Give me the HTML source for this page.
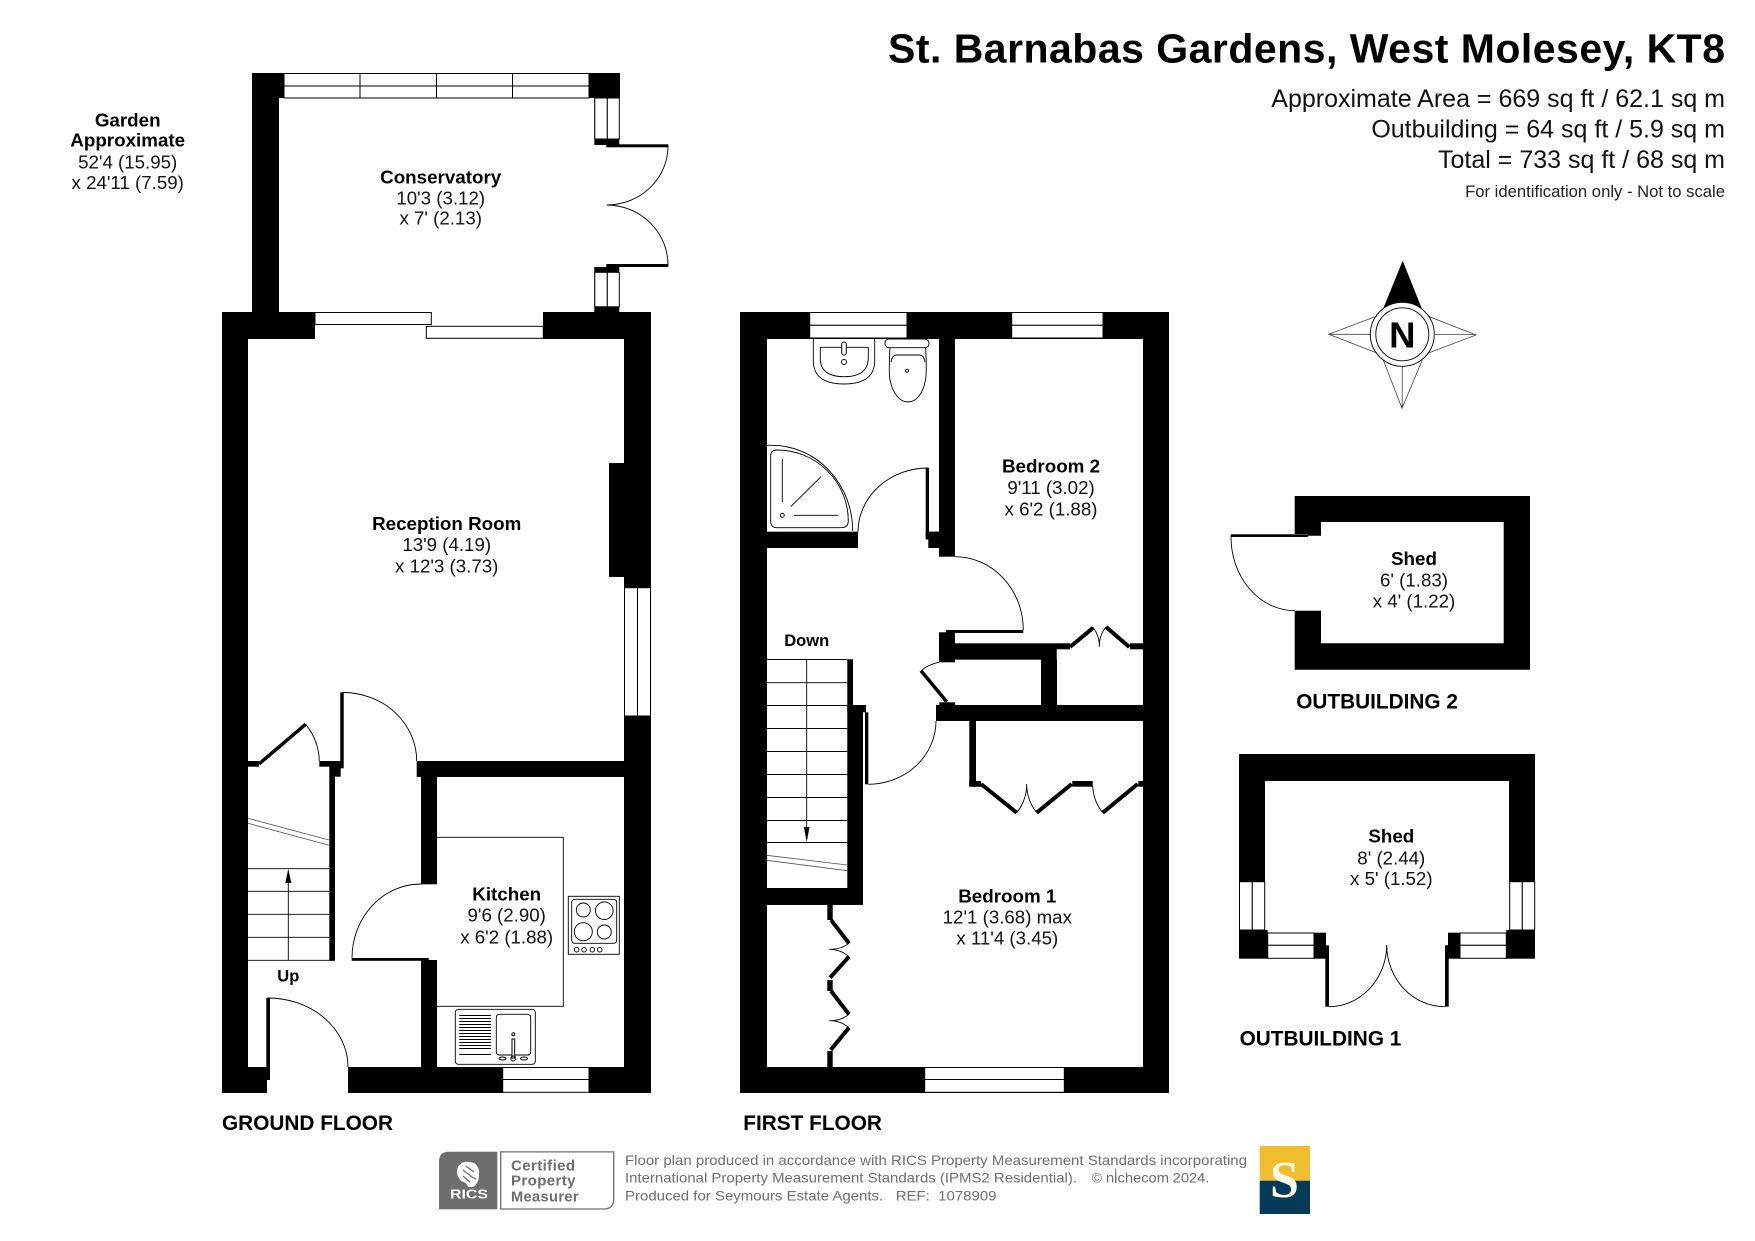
<!DOCTYPE html>
<html><head><meta charset="utf-8"><style>
html,body{margin:0;padding:0;background:#fff}
svg{display:block}
text{font-family:"Liberation Sans",sans-serif;fill:#000;white-space:pre}
.b{font-weight:bold;font-size:18.8px;text-anchor:middle}
.r{font-size:18.7px;text-anchor:middle;fill:#111}
.f{font-weight:bold;font-size:20.8px}
.h{font-size:25px;text-anchor:end;fill:#111}
.g{font-size:14px;fill:#6e6e6e}
.c{font-weight:bold;font-size:15px;fill:#6e6e6e;letter-spacing:.4px}
.w{fill:#fff;stroke:#000;stroke-width:1}
.t{fill:none;stroke:#000;stroke-width:.9}
.d{fill:none;stroke:#000;stroke-width:4}
</style></head><body>
<svg xmlns="http://www.w3.org/2000/svg" width="1755" height="1241" viewBox="0 0 1755 1241">
<rect width="1755" height="1241" fill="#fff"/>

<!-- Title -->
<text x="1725" y="62.5" font-weight="bold" font-size="41" text-anchor="end" textLength="837" style="fill:#000">St. Barnabas Gardens, West Molesey, KT8</text>
<text class="h" x="1725" y="107">Approximate Area = 669 sq ft / 62.1 sq m</text>
<text class="h" x="1725" y="137.5">Outbuilding = 64 sq ft / 5.9 sq m</text>
<text class="h" x="1725" y="168">Total = 733 sq ft / 68 sq m</text>
<text x="1725" y="197" font-size="16.65" text-anchor="end" style="fill:#222">For identification only - Not to scale</text>

<!-- Garden -->
<text class="b" x="127.7" y="126.7">Garden</text>
<text class="b" x="127.7" y="146.7">Approximate</text>
<text class="r" x="127.7" y="168.3">52'4 (15.95)</text>
<text class="r" x="127.7" y="189">x 24'11 (7.59)</text>

<!-- Conservatory walls -->
<rect x="252" y="73" width="27" height="240"/>
<rect x="252" y="73" width="32" height="25"/>
<rect x="589" y="73" width="31" height="25"/>
<rect x="594.3" y="98" width="25" height="47"/>
<rect x="594.3" y="267" width="25" height="45"/>
<rect class="w" x="284" y="73.5" width="76" height="12.5"/><rect class="w" x="360" y="73.5" width="76.5" height="12.5"/><rect class="w" x="436.5" y="73.5" width="76" height="12.5"/><rect class="w" x="512.5" y="73.5" width="76.5" height="12.5"/>
<rect class="w" x="284" y="86" width="76" height="12"/><rect class="w" x="360" y="86" width="76.5" height="12"/><rect class="w" x="436.5" y="86" width="76" height="12"/><rect class="w" x="512.5" y="86" width="76.5" height="12"/>
<rect class="w" x="594.8" y="98" width="12.5" height="41"/><rect class="w" x="607.3" y="98" width="12" height="41"/>
<rect class="w" x="594.8" y="272.3" width="12.5" height="34.5"/><rect class="w" x="607.3" y="272.3" width="12" height="34.5"/>
<rect x="606.3" y="144.3" width="62" height="3"/>
<rect x="606.3" y="264" width="62" height="3"/>
<path class="t" d="M668 146A61.5 59 0 0 1 606.7 205A61.5 60 0 0 1 668 265"/>
<text class="b" x="440.7" y="183.3">Conservatory</text>
<text class="r" x="440.7" y="204.3">10'3 (3.12)</text>
<text class="r" x="440.7" y="224.6">x 7' (2.13)</text>

<!-- Ground floor walls -->
<rect x="222" y="312" width="26" height="781"/>
<rect x="222" y="312" width="93" height="27"/>
<rect x="543" y="312" width="108" height="27"/>
<rect x="624" y="312" width="27" height="781"/>
<rect x="609" y="463" width="15" height="114"/>
<rect class="w" x="624.5" y="587.7" width="13" height="128.3"/><rect class="w" x="637.5" y="587.7" width="13" height="128.3"/>
<rect class="w" x="315" y="312.5" width="116.3" height="12"/>
<rect class="w" x="426.3" y="326.3" width="117" height="12"/>
<rect x="416.7" y="761" width="207.3" height="16"/>
<rect x="421" y="777" width="16" height="107.3"/>
<rect x="421" y="960" width="16" height="107"/>
<rect x="351.7" y="958" width="77" height="2.8"/>
<path class="t" d="M352 958A69 74 0 0 1 421 884"/>
<rect x="340.3" y="692.3" width="3.4" height="76"/>
<path class="t" d="M343 692.5A73.7 68.5 0 0 1 416.7 761"/>
<rect x="248" y="761" width="11" height="5.7"/>
<path d="M259 764L305.6 724.3" fill="none" stroke="#000" stroke-width="3.5"/>
<path class="t" d="M305.6 724.3A60 60 0 0 1 319.3 761"/>
<rect x="319.3" y="761" width="21.4" height="5.7"/>
<rect x="329.3" y="766" width="11.4" height="10.7"/>
<rect x="329.3" y="776" width="5.7" height="184.7"/>
<!-- stairs -->
<path class="t" d="M248 868.7H329M248 891.3H329M248 914.3H329M248 937.3H329M248 960.3H335M288.3 960V875"/>
<path d="M288.3 868.7L285.3 883H291.3Z"/>
<path d="M248 818.3L329 840M248 823.3L329 845.3" fill="none" stroke="#555" stroke-width=".8"/>
<text x="288.3" y="981.7" font-weight="bold" font-size="16.5" text-anchor="middle">Up</text>
<!-- bottom -->
<rect x="222" y="1067" width="45" height="26"/>
<rect x="248" y="1067" width="22" height="13"/>
<rect x="266.3" y="997.7" width="3.7" height="82.3"/>
<path class="t" d="M268 998A80 69 0 0 1 348 1067"/>
<rect x="348" y="1067" width="155" height="26"/>
<rect x="589" y="1067" width="35" height="26"/>
<rect class="w" x="502.7" y="1067.5" width="86.3" height="12"/><rect class="w" x="502.7" y="1079.5" width="86.3" height="12.8"/>
<!-- kitchen -->
<path class="t" d="M437 837.3H563.3V1006.3H437"/>
<rect class="t" x="568.3" y="896.3" width="51" height="58"/>
<rect class="t" x="571.7" y="899.3" width="45" height="44" rx="3"/>
<circle class="t" cx="583.3" cy="910" r="7"/><circle class="t" cx="604.3" cy="910.7" r="8.8"/><circle class="t" cx="583.3" cy="931.7" r="9"/><circle class="t" cx="604.3" cy="932" r="7"/>
<circle class="t" cx="576.7" cy="949.7" r="2.3"/><circle class="t" cx="584" cy="949.7" r="2.3"/><circle class="t" cx="592.3" cy="949.7" r="2.3"/><circle class="t" cx="599.7" cy="949.7" r="2.3"/>
<rect class="t" x="455.3" y="1009.3" width="80" height="55" rx="3"/>
<path class="t" d="M459.3 1015.5H491M459.3 1018.5H491M459.3 1021.5H491M459.3 1024.5H491M459.3 1027.5H491M459.3 1030.5H491M459.3 1033.5H491M459.3 1036.5H491M459.3 1039.5H491M459.3 1042.5H491M459.3 1045.5H491M459.3 1048.5H491M459.3 1054.5H491"/>
<rect class="t" x="496.3" y="1014.3" width="34.4" height="40.7" rx="3"/>
<rect class="w" x="512" y="1039" width="2.7" height="19"/>
<circle class="t" cx="513.3" cy="1034.3" r="1.5"/>
<circle class="t" cx="513.3" cy="1058.5" r="2.5"/>
<ellipse class="t" cx="502.5" cy="1058.5" rx="3.5" ry="1.5"/>
<ellipse class="t" cx="524" cy="1058.5" rx="3.5" ry="1.5"/>
<text class="b" x="506.7" y="900.7">Kitchen</text>
<text class="r" x="506.7" y="921.7">9'6 (2.90)</text>
<text class="r" x="506.7" y="943.3">x 6'2 (1.88)</text>
<text class="b" x="446.7" y="530">Reception Room</text>
<text class="r" x="446.7" y="551">13'9 (4.19)</text>
<text class="r" x="446.7" y="572.3">x 12'3 (3.73)</text>
<text class="f" x="222" y="1130">GROUND FLOOR</text>

<!-- First floor walls -->
<rect x="740" y="312" width="27" height="781"/>
<rect x="740" y="312" width="429" height="27"/>
<rect x="1143" y="312" width="26" height="781"/>
<rect x="740" y="1067" width="429" height="26"/>
<rect class="w" x="809.7" y="312.5" width="97.3" height="12.8"/><rect class="w" x="809.7" y="325.3" width="97.3" height="12.7"/>
<rect class="w" x="1011.7" y="312.5" width="91.3" height="12.8"/><rect class="w" x="1011.7" y="325.3" width="91.3" height="12.7"/>
<rect class="w" x="924.7" y="1067.5" width="139.6" height="12"/><rect class="w" x="924.7" y="1079.5" width="139.6" height="12.8"/>
<rect x="939" y="339" width="16" height="217.7"/>
<rect x="766.7" y="531.7" width="91.3" height="16.3"/>
<rect x="925.7" y="467.7" width="3.3" height="71.6"/>
<rect x="925.7" y="531.7" width="13.3" height="7.6"/>
<rect x="928.3" y="531.7" width="10.7" height="16.3"/>
<path class="t" d="M928 468A70 64 0 0 0 858 531.7"/>
<path class="t" d="M955 556.7A68.3 73.3 0 0 1 1023.3 630"/>
<rect x="946" y="630" width="77.3" height="3"/>
<rect x="939" y="632.3" width="16" height="30"/>
<rect x="955" y="643.3" width="101.7" height="16.4"/>
<rect x="1056" y="643.3" width="14" height="6"/>
<rect x="1130" y="643.3" width="13" height="6"/>
<path class="d" d="M1070 647L1093.3 627.7M1129.3 647L1106 627"/>
<path class="t" d="M1093.3 627.7A30 30 0 0 1 1099.3 646.7A30 30 0 0 1 1106 627"/>
<rect x="1041" y="659" width="16" height="46"/>
<rect x="936" y="705" width="207" height="16"/>
<rect x="939.3" y="702.3" width="15.7" height="3"/>
<path d="M921 670.7L946.7 701.7" fill="none" stroke="#000" stroke-width="3.5"/>
<path class="t" d="M921 670.7A40 40 0 0 1 939 662.3"/>
<rect x="865" y="712.3" width="3.3" height="72"/>
<path class="t" d="M936 721A68 63.3 0 0 1 868.3 784.3"/>
<rect x="847.3" y="659.3" width="5.7" height="46"/>
<rect x="847.3" y="705" width="15.7" height="200"/>
<rect x="847.3" y="705" width="18.7" height="7.3"/>
<rect x="766.7" y="888" width="96.3" height="17"/>
<!-- stairs -->
<path class="t" d="M766.7 659.5H847.3M766.7 682.7H847.3M766.7 705.5H847.3M766.7 728.5H847.3M766.7 751.5H847.3M766.7 774.5H847.3M766.7 797.5H847.3M766.7 820.5H847.3M766.7 842.5H847.3M806.7 659V830"/>
<path d="M806.7 842.3L803.9 827H809.5Z"/>
<path d="M766.7 855.3L847.3 865M766.7 860.3L847.3 870.7" fill="none" stroke="#555" stroke-width=".8"/>
<text x="806.7" y="646" font-weight="bold" font-size="16.5" text-anchor="middle">Down</text>
<!-- bed1 closets -->
<rect x="969.3" y="721" width="6.7" height="65.7"/>
<rect x="969.3" y="781" width="11.7" height="5.7"/>
<path class="d" d="M981 784L1016.7 812.7M1036.7 812.7L1071.7 784M1102.7 812.7L1137.7 784"/>
<rect x="1072.3" y="781" width="20.4" height="5.7"/>
<rect x="1138.3" y="781" width="4.7" height="5.7"/>
<path class="t" d="M1016.7 812.7A46 46 0 0 0 1026.7 784A46 46 0 0 0 1036.7 812.7M1092.7 786A46 46 0 0 0 1102.7 812.7"/>
<rect x="827.3" y="905" width="5.4" height="15"/>
<rect x="827.3" y="980" width="5.4" height="11"/>
<rect x="827.3" y="1051" width="5.4" height="16"/>
<path class="d" d="M831 920L849 943.3M849 956.7L830 977.7M831 991L849 1014.3M849 1027.7L830.7 1050"/>
<path class="t" d="M849 943.3A30 30 0 0 1 829.3 949.3A30 30 0 0 1 849 956.7M849 1014.3A30 30 0 0 1 829.3 1020.7A30 30 0 0 1 849 1027.7"/>
<!-- sanitary -->
<path class="t" d="M813.3 339V360Q813 384 844 384Q875 384 874.7 360V339"/>
<path class="t" d="M820.3 347.3H868.3V358Q868 376.7 844 376.7Q820 376.7 820.3 358Z"/>
<rect class="w" x="841.7" y="342" width="4.6" height="13" rx="2.3"/>
<circle class="t" cx="844" cy="362" r="2.5"/>
<rect class="t" x="885" y="339" width="44" height="8.7" rx="4"/>
<path class="t" d="M890 347.7C889 365 889 375 890 380C893 394 900 402 907.8 402C916 402 923 394 925.5 380C926.5 375 926.5 365 925.7 347.7"/>
<path class="t" d="M891 362Q892 355 897 355H919Q924 355 925 362"/>
<circle class="t" cx="907" cy="370.7" r="1.5"/>
<path class="t" d="M766.7 445.3H772A80.7 85.7 0 0 1 852.7 531"/>
<path class="t" d="M770.7 456Q770.7 450 777 450A71.3 71 0 0 1 848.3 521Q848.3 527.7 841 527.7H777Q770.7 527.7 770.7 521Z"/>
<path class="t" d="M782.3 459V502M794 515.3H838.3M790.7 506.7L821 476.7"/>
<circle class="t" cx="782.3" cy="515.3" r="2"/>
<text class="b" x="1051" y="472.7">Bedroom 2</text>
<text class="r" x="1051" y="494">9'11 (3.02)</text>
<text class="r" x="1051" y="515.3">x 6'2 (1.88)</text>
<text class="b" x="1007.3" y="902.7">Bedroom 1</text>
<text class="r" x="1007.3" y="923.3">12'1 (3.68) max</text>
<text class="r" x="1007.3" y="944.3">x 11'4 (3.45)</text>
<text class="f" x="743.3" y="1130">FIRST FLOOR</text>

<!-- Compass -->
<path d="M1402.7 260.7L1383.3 308.3Q1402.7 296 1421.7 308.3Z"/>
<path d="M1427.7 316L1476 335L1427.7 353.3M1377 316L1328.7 334.3L1377 353M1383.3 360L1402 408.3L1422.3 360M1435 334.5H1476M1328.7 334.3H1370M1402.2 366V408" fill="none" stroke="#444" stroke-width=".8"/>
<circle class="t" cx="1402.3" cy="334.3" r="32"/>
<circle class="t" cx="1402.3" cy="334.3" r="26.5"/>
<text x="1402.3" y="347.7" font-weight="bold" font-size="36.5" text-anchor="middle">N</text>

<!-- Shed 2 -->
<path d="M1294.7 496H1530V669.7H1294.7V610.7H1321V643.3H1503.7V522H1321V535.7H1308V534H1294.7Z"/>
<rect x="1230.7" y="534.3" width="77.3" height="2.7"/>
<path class="t" d="M1231 537A64 73.7 0 0 0 1295 610.7"/>
<text class="b" x="1414" y="565">Shed</text>
<text class="r" x="1414" y="586.7">6' (1.83)</text>
<text class="r" x="1414" y="607.7">x 4' (1.22)</text>
<text class="f" x="1296.2" y="708.3">OUTBUILDING 2</text>

<!-- Shed 1 -->
<rect x="1239" y="754" width="296" height="27"/>
<rect x="1239" y="754" width="26" height="128"/>
<rect x="1509" y="754" width="26" height="128"/>
<rect x="1239" y="930" width="28.7" height="28.7"/>
<rect x="1506.3" y="930" width="28.7" height="28.7"/>
<rect class="w" x="1239.5" y="881.7" width="12.8" height="48.3"/><rect class="w" x="1252.3" y="881.7" width="12.4" height="48.3"/>
<rect class="w" x="1509.7" y="881.7" width="12.6" height="48.3"/><rect class="w" x="1522.3" y="881.7" width="12.4" height="48.3"/>
<rect class="w" x="1267.7" y="933" width="46.3" height="12.3"/><rect class="w" x="1267.7" y="945.3" width="46.3" height="13"/>
<rect class="w" x="1460" y="933" width="46.3" height="12.3"/><rect class="w" x="1460" y="945.3" width="46.3" height="13"/>
<rect x="1314" y="932.7" width="12" height="26"/>
<rect x="1448" y="932.7" width="12" height="26"/>
<rect x="1325.3" y="945.3" width="3.7" height="61.4"/>
<rect x="1445" y="945.3" width="3.7" height="61.4"/>
<path class="t" d="M1329 1006.7A58 62 0 0 0 1386.7 945A58 62 0 0 0 1445 1006.7"/>
<text class="b" x="1391.3" y="842.7">Shed</text>
<text class="r" x="1391.3" y="864.3">8' (2.44)</text>
<text class="r" x="1391.3" y="885">x 5' (1.52)</text>
<text class="f" x="1239.6" y="1045.5">OUTBUILDING 1</text>

<!-- Footer -->
<path d="M449 1151.7H497.3V1209.3H439V1161.7Q439 1151.7 449 1151.7Z" fill="#6e6e6e"/>
<path d="M459 1164Q466 1160 474 1163Q480 1167 479 1175Q479 1183 473 1187H468L466 1183L461 1181Q456 1175 457 1170Z" fill="#fff"/>
<path d="M463 1170L471 1176M466 1166L474 1172M463 1176L470 1182M458 1166L462 1162M476 1179L470 1176" stroke="#6e6e6e" stroke-width="1.2" fill="none"/>
<text x="450" y="1198.5" font-size="13" font-weight="bold" textLength="38" lengthAdjust="spacingAndGlyphs" style="fill:#fff">RICS</text>
<path d="M500.7 1151.9H613.7V1199Q613.7 1209 603.7 1209H500.7Z" fill="none" stroke="#6e6e6e" stroke-width="1.3"/>
<text class="c" x="511" y="1170.7">Certified</text>
<text class="c" x="511" y="1185.5">Property</text>
<text class="c" x="511" y="1201.7" textLength="68" lengthAdjust="spacingAndGlyphs">Measurer</text>
<text class="g" x="625" y="1165" textLength="622" lengthAdjust="spacingAndGlyphs">Floor plan produced in accordance with RICS Property Measurement Standards incorporating</text>
<text class="g" x="625" y="1182.7" textLength="452" lengthAdjust="spacingAndGlyphs">International Property Measurement Standards (IPMS2 Residential).</text>
<text class="g" x="1091.7" y="1182.7">©</text>
<text class="g" x="1106" y="1182.7" textLength="63" lengthAdjust="spacingAndGlyphs">nichecom</text>
<path d="M1115.7 1168.5V1183" stroke="#6e6e6e" stroke-width="1" fill="none"/>
<text class="g" x="1172.7" y="1182.7" textLength="36.6" lengthAdjust="spacingAndGlyphs">2024.</text>
<text class="g" x="625" y="1200.7" textLength="371.5" lengthAdjust="spacingAndGlyphs">Produced for Seymours Estate Agents.   REF:  1078909</text>
<rect x="1259.7" y="1146" width="50.3" height="34.7" fill="#f0bd2e"/>
<rect x="1259.7" y="1180.7" width="50.3" height="33.3" fill="#063a59"/>
<text x="1284.5" y="1197" font-size="52" font-weight="bold" text-anchor="middle" style="fill:#fffbe8;font-family:'Liberation Serif',serif">S</text>
</svg>
</body></html>
